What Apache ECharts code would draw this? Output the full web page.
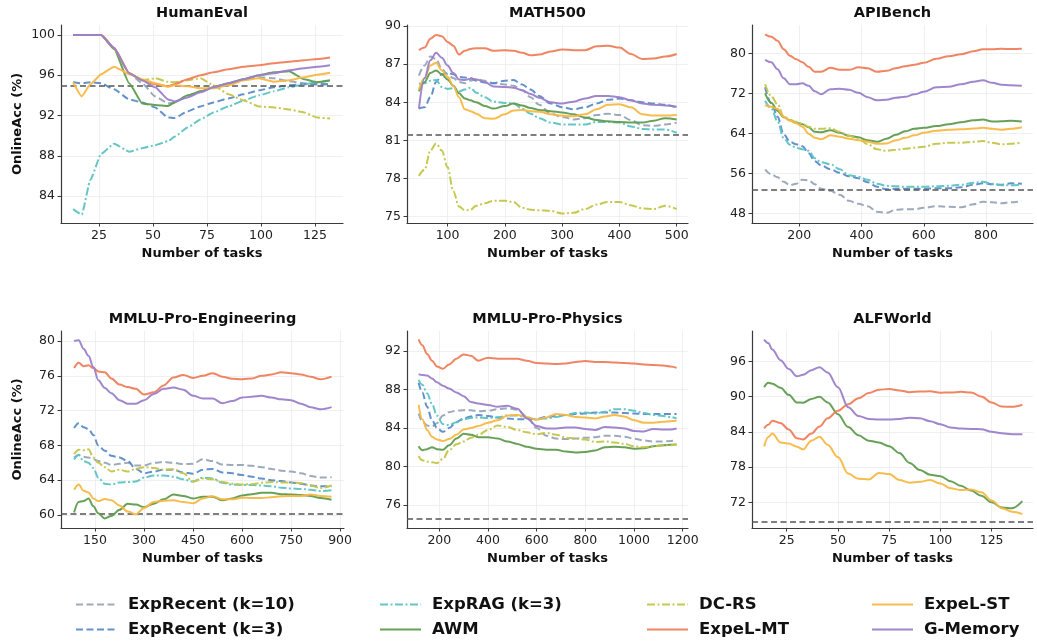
<!DOCTYPE html>
<html>
<head>
<meta charset="utf-8">
<script src="https://cdn.jsdelivr.net/npm/echarts@6/dist/echarts.min.js"></script>
<style>
html, body { margin: 0; padding: 0; background: #fff; }
#chart { width: 1037px; height: 642px; }
</style>
</head>
<body>
<div id="chart"></div>
<script>
// method names, in plot order (last one is drawn on top)
var methods = ['ExpRecent (k=10)', 'ExpRecent (k=3)', 'ExpRAG (k=3)', 'AWM', 'DC-RS', 'ExpeL-MT', 'ExpeL-ST', 'G-Memory'];
var titles = ['HumanEval', 'MATH500', 'APIBench', 'MMLU-Pro-Engineering', 'MMLU-Pro-Physics', 'ALFWorld'];
var baselines = [95.0, 81.42, 52.66, 60.15, 74.62, 68.7];

// HumanEval
var heX = [13, 17, 21, 26, 32, 39, 45, 51, 57, 60, 66, 72, 78, 85, 92, 99, 106, 113, 120, 126, 132];
var heRecent10 = [100, 100, 100, 100, 98.7, 96.2, 95.2, 93.9, 93.2, 93.3, 93.9, 94.4, 94.8, 95.2, 95.6, 95.8, 95.7, 95.4, 95.2, 95.1, 95.1];
var heRecent3 = [95.3, 95.2, 95.3, 95.2, 94.6, 93.6, 93.3, 92.8, 91.8, 91.75, 92.4, 92.9, 93.3, 93.7, 94.1, 94.5, 94.8, 95.0, 95.1, 95.1, 95.1];
var heRag = [82.7, 82.15, 85.6, 88.2, 89.2, 88.4, 88.75, 89.05, 89.45, 89.9, 90.8, 91.6, 92.3, 92.9, 93.5, 94.0, 94.4, 94.8, 95.1, 95.3, 95.45];
var heAwm = [100, 100, 100, 100, 98.6, 95.2, 93.2, 93.05, 92.95, 93.3, 94.0, 94.4, 94.8, 95.2, 95.6, 96.0, 96.3, 96.4, 95.6, 95.3, 95.5];
var heDcrs = [100, 100, 100, 100, 98.7, 96.2, 95.5, 95.7, 95.35, 95.3, 95.5, 95.7, 95.0, 94.1, 93.5, 92.9, 92.8, 92.6, 92.3, 91.8, 91.7];
var heExpelMT = [100, 100, 100, 100, 98.7, 96.2, 95.5, 95.1, 94.9, 95.1, 95.6, 96.0, 96.3, 96.6, 96.85, 97.0, 97.2, 97.35, 97.5, 97.6, 97.75];
var heExpelST = [95.3, 93.9, 95.1, 96.1, 96.85, 96.1, 95.6, 95.2, 94.85, 95.0, 94.9, 94.7, 94.7, 95.0, 95.5, 95.7, 95.35, 95.5, 95.8, 96.05, 96.25];
var heGmem = [100, 100, 100, 100, 98.7, 96.2, 95.5, 94.8, 93.6, 93.4, 93.8, 94.3, 94.8, 95.2, 95.6, 96.0, 96.2, 96.5, 96.7, 96.85, 97.0];
var heXTicks = [25, 50, 75, 100, 125];
var heYTicks = [84, 88, 92, 96, 100];

// MATH500
var maX = [50, 60, 70, 80, 90, 100, 110, 120, 130, 140, 150, 165, 180, 200, 215, 230, 245, 260, 280, 300, 320, 340, 360, 380, 400, 420, 440, 460, 480, 500];
var maRecent10 = [86.1, 86.9, 87.6, 87.4, 86.6, 86.2, 85.9, 85.6, 85.5, 85.7, 85.8, 85.7, 85.5, 85.4, 85.3, 84.95, 84.4, 83.8, 83.1, 82.85, 82.65, 82.75, 83.0, 83.1, 83.0, 82.6, 82.2, 82.15, 82.25, 82.4];
var maRecent3 = [83.5, 83.6, 84.4, 85.6, 86.2, 86.3, 86.2, 86.0, 85.95, 85.9, 85.7, 85.55, 85.5, 85.7, 85.75, 85.4, 85.0, 84.5, 83.9, 83.6, 83.45, 83.6, 83.9, 84.2, 84.3, 84.15, 84.0, 83.9, 83.8, 83.6];
var maRag = [85.45, 85.5, 85.7, 85.75, 85.2, 85.05, 85.1, 84.85, 85.0, 85.15, 84.75, 84.4, 84.05, 83.95, 83.9, 83.5, 83.1, 82.75, 82.4, 82.25, 82.25, 82.25, 82.45, 82.45, 82.4, 82.1, 81.9, 81.85, 81.85, 81.6];
var maAwm = [84.85, 85.6, 86.3, 86.5, 86.2, 85.8, 85.3, 84.7, 84.3, 84.15, 84.0, 83.7, 83.5, 83.7, 83.9, 83.75, 83.55, 83.4, 83.3, 83.2, 83.05, 82.8, 82.6, 82.5, 82.45, 82.4, 82.4, 82.55, 82.75, 82.65];
var maDcrs = [78.2, 78.7, 80.2, 80.75, 80.2, 78.9, 77.0, 75.8, 75.5, 75.55, 75.85, 76.05, 76.25, 76.25, 76.15, 75.7, 75.55, 75.5, 75.45, 75.25, 75.3, 75.6, 75.95, 76.15, 76.15, 75.9, 75.65, 75.6, 75.85, 75.6];
var maExpelMT = [88.1, 88.3, 89.0, 89.3, 89.2, 88.75, 88.45, 87.75, 88.05, 88.2, 88.25, 88.25, 88.05, 88.1, 88.05, 87.9, 87.7, 87.75, 88.0, 88.15, 88.1, 88.1, 88.4, 88.45, 88.3, 87.8, 87.4, 87.45, 87.6, 87.8];
var maExpelST = [85.0, 85.9, 86.9, 87.1, 86.5, 86.0, 85.3, 84.4, 83.45, 83.3, 83.1, 82.75, 82.7, 83.05, 83.35, 83.4, 83.3, 83.25, 83.05, 82.95, 82.9, 83.05, 83.45, 83.8, 83.85, 83.6, 83.05, 82.95, 82.95, 83.0];
var maGmem = [83.5, 85.9, 87.3, 87.9, 87.5, 86.9, 86.3, 85.8, 85.75, 85.85, 85.8, 85.6, 85.25, 85.2, 85.15, 84.95, 84.65, 84.35, 84.0, 83.9, 84.05, 84.3, 84.5, 84.5, 84.4, 84.15, 83.9, 83.8, 83.75, 83.65];
var maXTicks = [100, 200, 300, 400, 500];
var maYTicks = [75, 78, 81, 84, 87, 90];

// APIBench
var apX = [90, 110, 130, 150, 170, 190, 210, 230, 250, 270, 300, 330, 360, 390, 420, 450, 480, 510, 540, 570, 600, 640, 680, 720, 760, 790, 820, 850, 880, 915];
var apRecent10 = [56.8, 55.8, 55.2, 54.3, 53.6, 53.9, 54.7, 54.6, 53.8, 52.9, 52.5, 51.7, 50.5, 49.9, 49.4, 48.3, 48.1, 48.7, 48.8, 48.8, 49.1, 49.4, 49.3, 49.2, 49.8, 50.3, 50.2, 50.0, 50.2, 50.45];
var apRecent3 = [73.2, 70.0, 67.3, 63.8, 62.3, 61.8, 61.4, 60.0, 58.4, 57.6, 56.8, 56.1, 55.4, 55.0, 54.2, 53.3, 52.8, 52.9, 52.9, 52.9, 52.9, 53.0, 53.0, 53.2, 53.7, 54.0, 53.8, 53.7, 54.0, 53.9];
var apRag = [70.5, 69.0, 66.4, 63.0, 61.7, 61.1, 60.8, 60.5, 59.0, 58.2, 57.8, 56.8, 55.6, 55.3, 54.7, 53.9, 53.5, 53.4, 53.3, 53.3, 53.3, 53.4, 53.5, 53.7, 54.1, 54.3, 53.9, 53.6, 53.6, 53.7];
var apAwm = [72.0, 70.1, 68.5, 67.2, 66.6, 66.1, 65.8, 65.2, 64.3, 64.2, 64.6, 64.1, 63.5, 63.2, 62.6, 62.3, 62.9, 63.7, 64.4, 64.9, 65.1, 65.45, 65.8, 66.2, 66.6, 66.75, 66.35, 66.4, 66.5, 66.35];
var apDcrs = [73.8, 71.4, 69.8, 67.4, 66.7, 66.3, 65.9, 65.3, 64.9, 64.9, 65.0, 64.3, 63.5, 62.9, 61.8, 60.8, 60.5, 60.7, 60.9, 61.1, 61.3, 61.9, 62.1, 62.1, 62.3, 62.45, 62.1, 61.8, 61.9, 62.1];
var apExpelMT = [83.8, 83.3, 82.5, 80.8, 79.5, 78.8, 78.2, 77.3, 76.3, 76.3, 77.1, 76.7, 76.7, 77.2, 77.0, 76.3, 76.5, 77.0, 77.4, 77.7, 78.1, 78.9, 79.4, 79.8, 80.4, 80.8, 80.8, 80.9, 80.85, 80.9];
var apExpelST = [69.6, 69.3, 68.9, 67.3, 66.5, 66.0, 65.3, 63.9, 63.1, 62.8, 63.6, 63.3, 62.9, 62.6, 62.3, 61.9, 61.95, 62.6, 63.1, 63.6, 64.1, 64.5, 64.7, 64.8, 64.95, 65.1, 64.9, 64.7, 64.9, 65.2];
var apGmem = [78.7, 78.2, 76.8, 75.0, 73.8, 73.8, 74.0, 73.5, 72.4, 71.8, 72.8, 72.9, 72.7, 72.1, 71.2, 70.6, 70.7, 71.1, 71.3, 71.8, 72.3, 73.2, 73.3, 73.8, 74.3, 74.6, 74.1, 73.7, 73.6, 73.5];
var apXTicks = [200, 400, 600, 800];
var apYTicks = [48, 56, 64, 72, 80];

// MMLU-Pro-Engineering
var enX = [86, 100, 115, 130, 145, 160, 180, 200, 225, 250, 275, 300, 330, 360, 390, 420, 450, 480, 510, 540, 570, 600, 630, 660, 690, 720, 750, 780, 810, 840, 874];
var enRecent10 = [66.6, 66.9, 66.7, 66.6, 66.4, 66.2, 66.0, 65.75, 65.9, 66.0, 65.7, 65.7, 66.0, 66.1, 66.0, 65.85, 65.9, 66.4, 66.2, 65.8, 65.75, 65.75, 65.65, 65.5, 65.3, 65.1, 65.0, 64.8, 64.5, 64.3, 64.35];
var enRecent3 = [70.0, 70.55, 70.1, 69.9, 69.2, 68.0, 67.4, 66.8, 66.6, 66.2, 65.3, 64.8, 65.0, 65.2, 65.2, 64.9, 64.75, 65.2, 65.3, 64.9, 64.8, 64.6, 64.4, 64.2, 64.0, 63.9, 63.75, 63.6, 63.4, 63.3, 63.3];
var enRag = [66.4, 66.9, 66.2, 66.0, 65.4, 64.3, 63.6, 63.5, 63.75, 63.8, 63.85, 64.3, 64.55, 64.55, 64.4, 64.1, 63.85, 64.3, 64.2, 63.7, 63.5, 63.45, 63.45, 63.4, 63.3, 63.15, 63.05, 63.0, 62.9, 62.75, 62.85];
var enAwm = [60.3, 61.5, 61.6, 61.9, 61.0, 60.2, 59.6, 59.9, 60.6, 61.3, 61.2, 60.9, 61.3, 61.8, 62.35, 62.2, 61.9, 62.1, 62.1, 61.7, 61.9, 62.25, 62.4, 62.55, 62.55, 62.4, 62.35, 62.3, 62.2, 61.95, 61.75];
var enDcrs = [67.0, 67.5, 67.45, 67.55, 66.6, 66.0, 65.5, 65.0, 65.2, 65.0, 65.3, 65.5, 65.4, 65.2, 65.25, 64.8, 63.85, 64.2, 64.1, 63.8, 63.6, 63.5, 63.55, 63.7, 63.8, 63.75, 63.75, 63.65, 63.4, 63.1, 63.4];
var enExpelMT = [76.9, 77.5, 77.1, 77.2, 76.9, 76.5, 76.4, 75.7, 75.0, 74.7, 74.5, 73.85, 74.1, 74.9, 75.8, 76.1, 75.75, 76.0, 76.3, 75.9, 75.65, 75.6, 75.7, 76.0, 76.15, 76.4, 76.3, 76.15, 75.9, 75.6, 75.9];
var enExpelST = [62.9, 63.5, 62.8, 62.6, 61.9, 61.6, 61.85, 61.7, 61.1, 60.4, 60.1, 60.8, 61.5, 61.65, 61.7, 61.5, 61.35, 61.9, 62.15, 61.8, 61.8, 62.0, 61.95, 61.95, 62.05, 62.15, 62.2, 62.2, 62.35, 62.2, 62.1];
var enGmem = [80.0, 80.1, 79.1, 78.3, 77.0, 75.5, 74.6, 74.0, 73.2, 72.8, 72.8, 73.2, 73.9, 74.5, 74.65, 74.4, 73.7, 73.4, 73.4, 72.85, 73.1, 73.5, 73.6, 73.7, 73.5, 73.3, 73.2, 72.8, 72.4, 72.15, 72.4];
var enXTicks = [150, 300, 450, 600, 750, 900];
var enYTicks = [60, 64, 68, 72, 76, 80];

// MMLU-Pro-Physics
var phX = [115, 130, 150, 170, 190, 215, 240, 270, 300, 330, 360, 400, 440, 480, 520, 560, 600, 640, 680, 720, 760, 800, 840, 880, 920, 960, 1000, 1040, 1080, 1120, 1150, 1175];
var phRecent10 = [85.5, 84.7, 84.25, 84.15, 84.5, 85.3, 85.65, 85.8, 85.85, 85.85, 85.75, 85.8, 85.95, 86.05, 85.9, 85.2, 84.0, 83.2, 82.9, 82.85, 82.9, 83.0, 83.05, 83.2, 83.2, 83.1, 82.9, 82.7, 82.6, 82.6, 82.65, 82.7];
var phRecent3 = [88.7, 87.7, 86.2, 84.8, 84.0, 83.6, 84.0, 84.6, 85.0, 85.2, 85.35, 85.25, 85.1, 85.0, 84.9, 84.9, 84.95, 85.15, 85.25, 85.35, 85.45, 85.5, 85.6, 85.6, 85.6, 85.55, 85.5, 85.45, 85.45, 85.45, 85.45, 85.45];
var phRag = [89.0, 88.5, 87.6, 86.5, 85.3, 84.4, 84.3, 84.6, 84.9, 85.05, 85.1, 85.05, 85.1, 85.3, 85.3, 85.05, 84.9, 85.0, 85.15, 85.35, 85.55, 85.6, 85.5, 85.7, 85.95, 85.95, 85.8, 85.55, 85.35, 85.25, 85.15, 85.0];
var phAwm = [82.1, 81.7, 81.8, 82.0, 81.8, 81.75, 82.2, 82.9, 83.4, 83.3, 83.05, 83.05, 82.9, 82.6, 82.35, 82.05, 81.85, 81.75, 81.75, 81.55, 81.45, 81.5, 81.65, 82.0, 82.05, 82.0, 81.85, 81.9, 82.1, 82.2, 82.25, 82.3];
var phDcrs = [81.1, 80.65, 80.5, 80.45, 80.35, 80.8, 81.7, 82.3, 82.6, 83.0, 83.3, 83.8, 84.25, 84.1, 83.8, 83.55, 83.35, 83.5, 83.3, 83.0, 82.9, 82.8, 82.55, 82.6, 82.5, 82.35, 82.1, 82.0, 82.1, 82.2, 82.2, 82.25];
var phExpelMT = [93.2, 92.6, 91.7, 91.0, 90.4, 90.15, 90.6, 91.2, 91.65, 91.5, 91.0, 91.3, 91.2, 91.2, 91.2, 91.0, 90.75, 90.7, 90.65, 90.7, 90.85, 90.95, 90.85, 90.85, 90.8, 90.75, 90.7, 90.6, 90.55, 90.5, 90.4, 90.25];
var phExpelST = [86.4, 84.9, 83.8, 83.1, 82.8, 82.65, 82.85, 83.3, 83.85, 84.0, 84.2, 84.55, 84.8, 85.3, 85.35, 85.15, 84.85, 85.1, 85.45, 85.35, 85.15, 85.1, 85.0, 85.2, 85.35, 85.2, 84.8, 84.55, 84.55, 84.65, 84.7, 84.75];
var phGmem = [89.6, 89.5, 89.45, 89.15, 88.75, 88.4, 88.1, 87.7, 87.3, 86.7, 86.55, 86.4, 86.2, 86.3, 86.0, 85.0, 84.2, 83.95, 83.95, 84.05, 84.05, 83.9, 83.8, 84.1, 84.05, 83.95, 83.7, 83.65, 83.9, 83.85, 83.85, 83.95];
var phXTicks = [200, 400, 600, 800, 1000, 1200];
var phYTicks = [76, 80, 84, 88, 92];

// ALFWorld (only four methods)
var alX = [14, 16, 18, 22, 26, 30, 33, 37, 41, 45, 50, 55, 60, 65, 70, 75, 80, 85, 90, 95, 100, 105, 110, 115, 120, 125, 130, 135, 140];
var alAwm = [91.6, 92.35, 92.2, 91.5, 90.3, 89.0, 88.95, 89.6, 89.95, 89.0, 87.0, 84.8, 83.4, 82.5, 82.2, 81.55, 80.4, 78.7, 77.5, 76.7, 76.45, 75.6, 74.8, 74.0, 73.1, 72.0, 71.1, 71.0, 72.2];
var alExpelMT = [84.6, 85.2, 85.9, 85.5, 84.4, 82.9, 82.7, 83.7, 84.9, 86.3, 87.6, 88.7, 89.7, 90.6, 91.15, 91.3, 91.05, 90.75, 90.85, 90.9, 90.65, 90.7, 90.8, 90.7, 90.0, 89.0, 88.3, 88.25, 88.6];
var alExpelST = [81.5, 83.1, 83.7, 82.2, 82.0, 81.45, 81.0, 82.5, 83.15, 81.8, 79.7, 76.9, 76.0, 75.9, 77.0, 76.8, 75.8, 75.35, 75.5, 75.8, 75.2, 74.4, 74.1, 74.2, 73.7, 72.3, 71.0, 70.4, 70.0];
var alGmem = [99.7, 99.1, 98.0, 96.2, 94.7, 93.45, 93.7, 94.5, 95.0, 94.1, 91.6, 88.2, 86.7, 86.2, 86.1, 86.1, 86.2, 86.4, 86.3, 85.8, 85.3, 84.75, 84.55, 84.5, 84.45, 84.0, 83.75, 83.6, 83.6];
var alXTicks = [25, 50, 75, 100, 125];
var alYTicks = [72, 78, 84, 90, 96];

var colors = {
    'ExpRecent (k=10)': '#97a5b7',
    'ExpRecent (k=3)': '#5b8bc9',
    'ExpRAG (k=3)': '#5cc3c3',
    'AWM': '#5f9c4f',
    'DC-RS': '#c4c547',
    'ExpeL-MT': '#ee7e5a',
    'ExpeL-ST': '#f7b845',
    'G-Memory': '#9b80ca'
};
var dashes = {
    'ExpRecent (k=10)': [7, 3.5],
    'ExpRecent (k=3)': [7, 3.5],
    'ExpRAG (k=3)': [8, 2.5, 2, 2.5],
    'DC-RS': [8, 2.5, 2, 2.5]
};

var panels = [
    { grid: { left: 61, top: 25, width: 282, height: 198 }, xr: [7.4, 138], yr: [81.32, 100.99], xt: heXTicks, yt: heYTicks, x: heX, smooth: 0.15, yName: true,
      lines: { 'ExpRecent (k=10)': heRecent10, 'ExpRecent (k=3)': heRecent3, 'ExpRAG (k=3)': heRag, 'AWM': heAwm, 'DC-RS': heDcrs, 'ExpeL-MT': heExpelMT, 'ExpeL-ST': heExpelST, 'G-Memory': heGmem } },
    { grid: { left: 407, top: 25, width: 281, height: 198 }, xr: [29.2, 519.7], yr: [74.5, 90.08], xt: maXTicks, yt: maYTicks, x: maX, smooth: 0.35,
      lines: { 'ExpRecent (k=10)': maRecent10, 'ExpRecent (k=3)': maRecent3, 'ExpRAG (k=3)': maRag, 'AWM': maAwm, 'DC-RS': maDcrs, 'ExpeL-MT': maExpelMT, 'ExpeL-ST': maExpelST, 'G-Memory': maGmem } },
    { grid: { left: 752, top: 25, width: 281, height: 198 }, xr: [48, 951], yr: [46.06, 85.66], xt: apXTicks, yt: apYTicks, x: apX, smooth: 0.35,
      lines: { 'ExpRecent (k=10)': apRecent10, 'ExpRecent (k=3)': apRecent3, 'ExpRAG (k=3)': apRag, 'AWM': apAwm, 'DC-RS': apDcrs, 'ExpeL-MT': apExpelMT, 'ExpeL-ST': apExpelST, 'G-Memory': apGmem } },
    { grid: { left: 61, top: 331, width: 283, height: 197 }, xr: [45.9, 912], yr: [58.51, 81.15], xt: enXTicks, yt: enYTicks, x: enX, smooth: 0.35, yName: true,
      lines: { 'ExpRecent (k=10)': enRecent10, 'ExpRecent (k=3)': enRecent3, 'ExpRAG (k=3)': enRag, 'AWM': enAwm, 'DC-RS': enDcrs, 'ExpeL-MT': enExpelMT, 'ExpeL-ST': enExpelST, 'G-Memory': enGmem } },
    { grid: { left: 407, top: 331, width: 281, height: 197 }, xr: [67.2, 1221.8], yr: [73.61, 94.08], xt: phXTicks, yt: phYTicks, x: phX, smooth: 0.35,
      lines: { 'ExpRecent (k=10)': phRecent10, 'ExpRecent (k=3)': phRecent3, 'ExpRAG (k=3)': phRag, 'AWM': phAwm, 'DC-RS': phDcrs, 'ExpeL-MT': phExpelMT, 'ExpeL-ST': phExpelST, 'G-Memory': phGmem } },
    { grid: { left: 752, top: 331, width: 281, height: 197 }, xr: [8.07, 145.2], yr: [67.63, 101.16], xt: alXTicks, yt: alYTicks, x: alX, smooth: 0.35,
      lines: { 'AWM': alAwm, 'ExpeL-MT': alExpelMT, 'ExpeL-ST': alExpelST, 'G-Memory': alGmem } }
];

var FONT = 'DejaVu Sans';
var axisColor = '#3a3a3a';
var grids = [], xAxes = [], yAxes = [], series = [], graphics = [];

panels.forEach(function (p, i) {
    grids.push(Object.assign({ outerBoundsMode: 'none', containLabel: false }, p.grid));
    var common = {
        gridIndex: i,
        type: 'value',
        axisLine: { show: true, onZero: false, lineStyle: { color: axisColor, width: 1.2 } },
        splitLine: { show: true, lineStyle: { color: '#ececec', width: 0.8 } },
        nameTextStyle: { fontFamily: FONT, fontSize: 13, fontWeight: 'bold', color: '#111' }
    };
    xAxes.push(Object.assign({}, common, {
        min: p.xr[0], max: p.xr[1],
        axisTick: { show: true, length: 3.5, customValues: p.xt, lineStyle: { color: axisColor } },
        axisLabel: { customValues: p.xt, margin: 6, fontFamily: FONT, fontSize: 12.5, color: '#222', formatter: function (v) { return String(v); } },
        name: 'Number of tasks', nameLocation: 'middle', nameGap: 24
    }));
    yAxes.push(Object.assign({}, common, {
        min: p.yr[0], max: p.yr[1],
        axisTick: { show: true, length: 3.5, customValues: p.yt, lineStyle: { color: axisColor } },
        axisLabel: { customValues: p.yt, margin: 6, fontFamily: FONT, fontSize: 12.5, color: '#222', formatter: function (v) { return String(v); } },
        name: p.yName ? 'OnlineAcc (%)' : '', nameLocation: 'middle', nameGap: 37
    }));
    methods.forEach(function (m, k) {
        var vals = p.lines[m];
        if (!vals) return;
        series.push({
            type: 'line', name: m, xAxisIndex: i, yAxisIndex: i,
            data: p.x.map(function (xv, j) { return [xv, vals[j]]; }),
            symbol: 'none', showSymbol: false, smooth: p.smooth, smoothMonotone: 'x',
            lineStyle: { color: colors[m], width: 2, type: dashes[m] || 'solid', opacity: 0.95 },
            itemStyle: { color: colors[m] },
            z: 2 + k
        });
    });
    // dashed reference level
    series.push({
        type: 'line', name: 'baseline', xAxisIndex: i, yAxisIndex: i, data: [], z: 12,
        markLine: {
            silent: true, symbol: ['none', 'none'], label: { show: false }, animation: false,
            lineStyle: { color: '#555', width: 1.6, type: [6, 3.5] },
            data: [{ yAxis: baselines[i] }]
        }
    });
    graphics.push({
        type: 'text', x: p.grid.left + p.grid.width / 2, y: p.grid.top - 12,
        style: { text: titles[i], textAlign: 'center', textVerticalAlign: 'middle', font: 'bold 14.5px "DejaVu Sans"', fill: '#111' }
    });
});

function legendCol(items, left) {
    return {
        data: items, orient: 'vertical', left: left, top: 596, itemGap: 8, padding: 0,
        itemWidth: 41, itemHeight: 14,
        itemStyle: { opacity: 0 },
        textStyle: { fontFamily: FONT, fontSize: 16.5, fontWeight: 'bold', color: '#111', padding: [0, 0, 0, 6] }
    };
}

var chart = echarts.init(document.getElementById('chart'));
var option = {
    animation: false,
    textStyle: { fontFamily: FONT },
    grid: grids,
    xAxis: xAxes,
    yAxis: yAxes,
    legend: [
        legendCol([methods[0], methods[1]], 75),
        legendCol([methods[2], methods[3]], 379),
        legendCol([methods[4], methods[5]], 646),
        legendCol([methods[6], methods[7]], 871)
    ],
    graphic: graphics,
    series: series
};
chart.setOption(option);
</script>
</body>
</html>
